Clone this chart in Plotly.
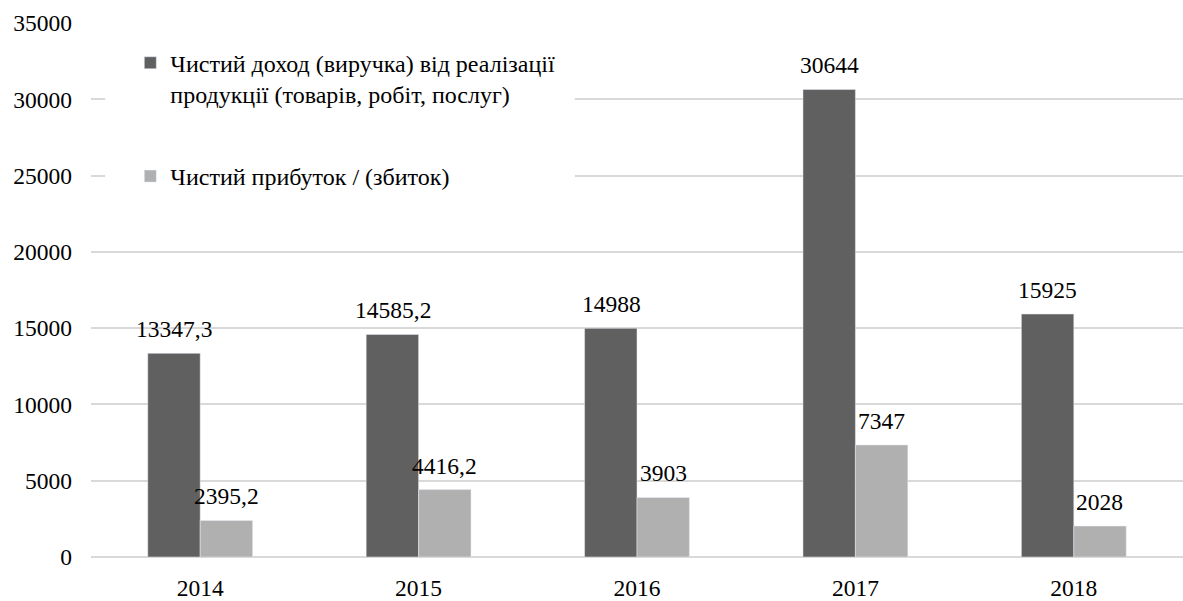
import plotly.graph_objects as go

# Annual figures
years = ["2014", "2015", "2016", "2017", "2018"]
revenue = [13347.3, 14585.2, 14988, 30644, 15925]
profit = [2395.2, 4416.2, 3903, 7347, 2028]
revenue_labels = ["13347,3", "14585,2", "14988", "30644", "15925"]
profit_labels = ["2395,2", "4416,2", "3903", "7347", "2028"]

series_names = [
    "Чистий доход (виручка) від реалізації<br>продукції (товарів, робіт, послуг)",
    "Чистий прибуток / (збиток)",
]
y_ticks = [0, 5000, 10000, 15000, 20000, 25000, 30000, 35000]

FONT = "Liberation Serif, Times New Roman, serif"
DARK = "#606060"
LIGHT = "#b0b0b0"
GRID = "#d9d9d9"
TXT = 23.5

fig = go.Figure()
fig.add_trace(go.Bar(
    x=years, y=revenue, name=series_names[0], marker_color=DARK,
    legendgroup="a", hoverinfo="skip",
))
fig.add_trace(go.Bar(
    x=years, y=profit, name=series_names[1], marker_color=LIGHT,
    legendgroup="b", hoverinfo="skip",
))

# Value labels above each bar; on a category axis the annotation x is the
# category index, and the two bars of a group sit half a slot left/right
BAR_SHIFT = 26
for vals, labels, shift in ((revenue, revenue_labels, -BAR_SHIFT),
                            (profit, profit_labels, BAR_SHIFT)):
    for i, (v, t) in enumerate(zip(vals, labels)):
        fig.add_annotation(
            x=i, y=v, text=t, showarrow=False, xshift=shift, yshift=9,
            yanchor="bottom", font=dict(family=FONT, size=TXT, color="#000000"),
        )

# White panel behind the legend, hiding the gridlines there
fig.add_shape(
    type="rect", xref="x domain", yref="paper",
    x0=0.013, x1=0.443, y0=0.672, y1=1.02,
    fillcolor="white", line_width=0, layer="above",
)

fig.update_layout(
    width=1183, height=601,
    margin=dict(l=91, r=0, t=23, b=38),
    paper_bgcolor="white", plot_bgcolor="white",
    barmode="group", bargap=0.52, bargroupgap=0,
    font=dict(family=FONT, size=TXT, color="#000000"),
    showlegend=True,
    legend=dict(
        x=0.036, y=0.967, xanchor="left", yanchor="top",
        bgcolor="rgba(255,255,255,0)", borderwidth=0,
        traceorder="grouped", tracegroupgap=48, valign="top",
        font=dict(family=FONT, size=24, color="#000000"),
    ),
    xaxis=dict(
        type="category", range=[-0.5, len(years) - 0.5],
        showgrid=False, showline=False, ticks="",
        ticklabelstandoff=14,
        tickfont=dict(family=FONT, size=TXT, color="#000000"),
    ),
    yaxis=dict(
        range=[0, 35000], tickvals=y_ticks, tickformat="d",
        showgrid=True, gridcolor=GRID, gridwidth=1.5,
        zeroline=True, zerolinecolor=GRID, zerolinewidth=2,
        showline=False, ticks="", ticklabelstandoff=18,
        tickfont=dict(family=FONT, size=TXT, color="#000000"),
    ),
)

fig.write_html("out.html")
